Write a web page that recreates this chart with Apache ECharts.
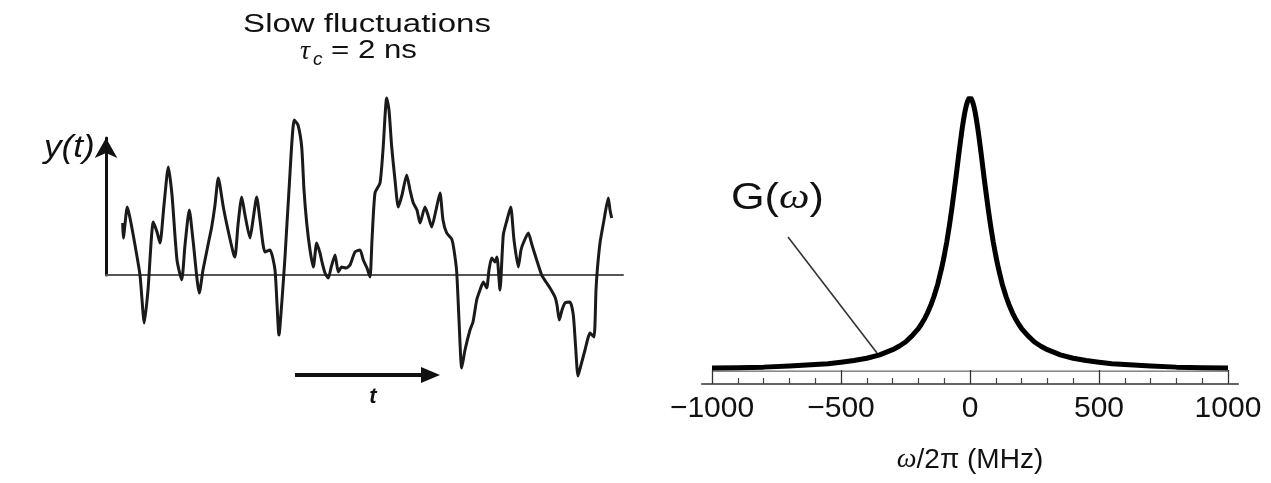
<!DOCTYPE html>
<html><head><meta charset="utf-8">
<script src="https://cdn.jsdelivr.net/npm/echarts@6/dist/echarts.min.js"></script>
<style>html,body{margin:0;padding:0;background:#fff}#c{width:1271px;height:483px}</style>
</head><body><div id="c"></div>
<script>
// Left panel: slow fluctuation trace y(t) (arbitrary units)
const traceT = [16.7,17.3,21.3,24,29,34,38.3,42,47.3,51,
  54,58,62.3,66,71,75.7,79,83.3,87,93.3,
  97,100,103,105.7,109,112.3,117.3,122,127.3,129,
  132,135.7,139,144,147,150.7,154,159,164,169,
  173,176,179,183,188.3,192,195.7,198,200.7,204,
  207.3,210.7,214,216,219,222.3,225,229,232.3,235.7,
  240,244,249,254,257.3,261,264,266,269,274,
  277,280.7,283,285.7,289,292.3,296,300.7,304,307.3,
  311,314,319,322,325.7,330,334,337,340.7,345.7,
  348,350.7,353,355.7,359,364,367,370.7,374,377.3,
  380.7,383,385.7,389,391,394,397.3,401,404.7,408,
  412.3,415,417.3,422.3,426,430.7,435.7,440,444,449,
  451,453.3,456,459,464,467.3,469.5,472,475,479,
  482,484,488,490,491.3,494,498,502.3,504,505.7];
const traceY = [0.52,0.37,0.68,0.57,0.30,0.00,-0.48,-0.15,0.53,0.43,
  0.32,0.70,1.08,0.80,0.15,-0.05,0.30,0.65,0.35,-0.18,
  0.05,0.20,0.35,0.48,0.70,0.97,0.68,0.45,0.22,0.18,
  0.50,0.78,0.60,0.37,0.55,0.78,0.55,0.23,0.25,0.05,
  -0.60,-0.25,0.18,0.85,1.55,1.50,1.28,0.85,0.52,0.25,
  0.08,0.32,0.22,0.13,0.02,-0.03,0.07,0.20,0.03,0.08,
  0.07,0.10,0.23,0.25,0.15,0.07,-0.02,0.35,0.82,0.92,
  1.25,1.77,1.65,1.28,0.95,0.68,0.80,1.00,0.85,0.72,
  0.65,0.52,0.68,0.60,0.48,0.65,0.82,0.55,0.42,0.36,
  0.25,0.03,-0.45,-0.93,-0.75,-0.55,-0.47,-0.25,-0.15,-0.07,
  -0.13,0.05,0.17,0.13,0.18,-0.15,0.40,0.55,0.68,0.35,
  0.08,0.25,0.32,0.42,0.30,0.15,0.00,-0.07,-0.13,-0.22,
  -0.30,-0.45,-0.35,-0.28,-0.27,-0.40,-0.70,-1.01,-0.90,-0.75,
  -0.63,-0.58,-0.62,-0.15,0.05,0.32,0.55,0.77,0.65,0.57];

// Right panel: spectral density G(omega) (normalised to peak)
const omega = [-1000,-900,-800,-700,-600,-550,-500,-450,-400,-350,-300,-275,-250,-225,-200,-190,-175,-165,-150,-140,-125,-110,-100,-90,-80,-70,-60,-55,-50,-45,-40,-35,-30,-25,-20,-15,-10,-5,0,
  5,10,15,20,25,30,35,40,45,50,55,60,70,80,90,100,110,125,140,150,165,175,190,200,225,250,275,300,350,400,450,500,550,600,700,800,900,1000];
const gValues = [0.056,0.057,0.059,0.063,0.068,0.071,0.076,0.082,0.090,0.102,0.120,0.132,0.147,0.168,0.194,0.207,0.230,0.248,0.280,0.305,0.349,0.405,0.448,0.497,0.553,0.616,0.684,0.719,0.755,0.792,0.828,0.862,0.895,0.924,0.950,0.971,0.987,0.997,1.000,
  0.997,0.987,0.971,0.950,0.924,0.895,0.862,0.828,0.792,0.755,0.719,0.684,0.616,0.553,0.497,0.448,0.405,0.349,0.305,0.280,0.248,0.230,0.207,0.194,0.168,0.147,0.132,0.120,0.102,0.090,0.082,0.076,0.071,0.068,0.063,0.059,0.057,0.056];
const xLabelValues = [-1000,-500,0,500,1000];
const minorTickValues = [-900,-800,-700,-600,-400,-300,-200,-100,100,200,300,400,600,700,800,900];
const frameLevel = 0.045;

const FONT = "'Liberation Sans', Arial, Helvetica, sans-serif";
const chart = echarts.init(document.getElementById('c'), null, {renderer:'canvas'});

const option = {
  backgroundColor:'#fff',
  animation:false,
  grid:[
    {left:106, right:648, top:138, bottom:208},
    {left:701.7, right:32.7, top:98, bottom:99}
  ],
  xAxis:[
    {gridIndex:0, type:'value', min:0, max:517,
     axisLine:{show:true, lineStyle:{color:'#555', width:2}},
     axisTick:{show:false}, axisLabel:{show:false}, splitLine:{show:false}},
    {gridIndex:1, type:'value', position:'bottom', min:-1040, max:1040,
     axisLine:{show:true, lineStyle:{color:'#333', width:1.5}},
     axisTick:{show:true, inside:true, length:14, customValues:xLabelValues, lineStyle:{color:'#333', width:1.3}},
     axisLabel:{show:true, customValues:xLabelValues, fontSize:30, color:'#111', margin:10, fontFamily:FONT,
       formatter:v => v < 0 ? '\u2212' + Math.abs(v) : String(v)},
     splitLine:{show:false},
     name:'{w|\u03c9}/2\u03c0 (MHz)', nameLocation:'middle', nameGap:62,
     nameTextStyle:{fontSize:28, color:'#111', fontFamily:FONT,
       rich:{w:{fontSize:28, fontStyle:'italic', color:'#111', fontFamily:"'Liberation Serif', serif"}}}},
    {gridIndex:1, type:'value', position:'bottom', min:-1040, max:1040,
     axisLine:{show:false},
     axisTick:{show:true, inside:true, length:6, customValues:minorTickValues, lineStyle:{color:'#444', width:1.2}},
     axisLabel:{show:false}, splitLine:{show:false}}
  ],
  yAxis:[
    {gridIndex:0, type:'value', min:0, max:1.37,
     axisLine:{show:true, symbol:['none','arrow'], symbolSize:[17,20], lineStyle:{color:'#111', width:3}},
     axisTick:{show:false}, axisLabel:{show:false}, splitLine:{show:false}},
    {gridIndex:1, type:'value', min:0, max:1, show:false}
  ],
  series:[
    {type:'line', xAxisIndex:0, yAxisIndex:0, clip:false, showSymbol:false, smooth:0.2,
     data:traceT.map((t,i)=>[t, traceY[i]]),
     lineStyle:{color:'#1a1a1a', width:3}, z:3},
    {type:'line', xAxisIndex:1, yAxisIndex:1, showSymbol:false,
     data:[[xLabelValues[0], frameLevel],[xLabelValues[xLabelValues.length-1], frameLevel]],
     lineStyle:{color:'#444', width:1}, z:2},
    {type:'line', xAxisIndex:1, yAxisIndex:1, showSymbol:false, smooth:false, clip:false,
     data:omega.map((w,i)=>[w, gValues[i]]),
     lineStyle:{color:'#000', width:5, join:'round'}, z:3}
  ],
  graphic:[
    {type:'text', x:367, y:25, scaleX:1.27, style:{text:'Slow fluctuations', fontSize:26, fontFamily:FONT, fill:'#111', align:'center', verticalAlign:'middle'}},
    {type:'text', x:300, y:52, style:{text:'\u03c4', fontSize:28, fontStyle:'italic', fontFamily:"'Liberation Serif', serif", fill:'#111', verticalAlign:'middle'}},
    {type:'text', x:313, y:60, style:{text:'c', fontSize:19, fontStyle:'italic', fontFamily:FONT, fill:'#111', verticalAlign:'middle'}},
    {type:'text', x:331, y:51, scaleX:1.2, style:{text:'= 2 ns', fontSize:26, fontFamily:FONT, fill:'#111', verticalAlign:'middle'}},
    {type:'text', x:44, y:148, scaleX:1.1, style:{text:'y(t)', fontSize:32, fontStyle:'italic', fontFamily:FONT, fill:'#111', verticalAlign:'middle'}},
    {type:'line', shape:{x1:295, y1:375, x2:426, y2:375}, style:{stroke:'#111', lineWidth:4}},
    {type:'polygon', shape:{points:[[440,375],[421,367],[421,383]]}, style:{fill:'#111'}},
    {type:'text', x:373, y:397, style:{text:'t', fontSize:22, fontStyle:'italic', fontWeight:'bold', fontFamily:FONT, fill:'#111', align:'center', verticalAlign:'middle'}},
    {type:'text', x:731, y:199, scaleX:1.2, style:{text:'G({w|\u03c9})', fontSize:36, fontFamily:FONT, fill:'#111', verticalAlign:'middle',
      rich:{w:{fontSize:36, fontStyle:'italic', fontFamily:"'Liberation Serif', serif", fill:'#111'}}}},
    {type:'line', shape:{x1:788, y1:237, x2:877, y2:353}, style:{stroke:'#333', lineWidth:1.6}}
  ]
};
chart.setOption(option);
</script>
</body></html>
